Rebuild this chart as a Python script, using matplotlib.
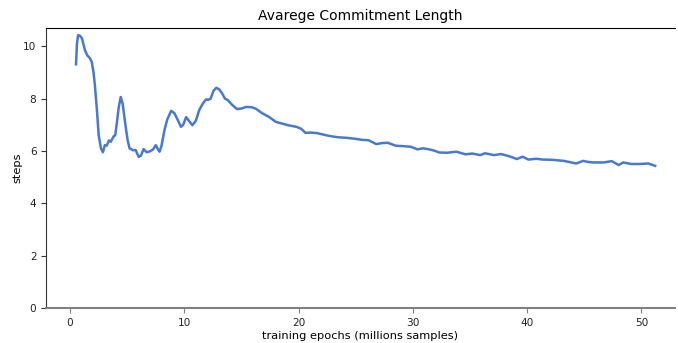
import numpy as np
from matplotlib import pyplot as plt

# values
epochs = [0.52, 0.6, 0.7, 0.85, 1.04, 1.3, 1.5, 1.74, 1.9, 2.05, 2.17, 2.35, 2.5, 2.7,
          2.87, 3.04, 3.2, 3.4, 3.56, 3.8, 3.95, 4.1, 4.25, 4.43, 4.6, 4.87, 5.04,
          5.2, 5.48, 5.74, 6.0, 6.2, 6.43, 6.7, 6.96, 7.25, 7.5, 7.7, 7.83, 8.0,
          8.26, 8.5, 8.84, 9.13, 9.4, 9.7, 9.9, 10.15, 10.4, 10.7, 11.0, 11.3,
          11.6, 11.9, 12.1, 12.3, 12.55, 12.8, 13.05, 13.3, 13.55, 13.8, 14.2,
          14.6, 15.0, 15.4, 15.9, 16.3, 16.8, 17.4, 18.0, 18.5, 19.1, 19.8, 20.2,
          20.6, 21.1, 21.6, 22.1, 22.6, 23.0, 23.5, 24.2, 25.0, 25.6, 26.1, 26.8,
          27.3, 27.8, 28.5, 29.2, 29.8, 30.4, 30.9, 31.3, 31.8, 32.3, 33.0, 33.8,
          34.6, 35.2, 35.9, 36.3, 37.1, 37.7, 38.4, 39.1, 39.6, 40.1, 40.8, 41.4,
          42.2, 43.2, 44.3, 44.9, 45.3, 45.8, 46.7, 47.4, 48.0, 48.4, 49.1, 49.8,
          50.6, 51.2]
steps = [9.31, 10.1, 10.42, 10.4, 10.3, 9.85, 9.65, 9.54, 9.39, 9.0, 8.5, 7.55, 6.6,
         6.1, 5.95, 6.22, 6.2, 6.4, 6.35, 6.55, 6.6, 7.1, 7.65, 8.06, 7.8, 6.9, 6.4,
         6.1, 6.03, 6.03, 5.77, 5.82, 6.07, 5.95, 5.98, 6.05, 6.22, 6.05, 5.97,
         6.2, 6.8, 7.2, 7.53, 7.44, 7.2, 6.92, 7.0, 7.29, 7.15, 6.98, 7.15, 7.56,
         7.8, 7.97, 7.95, 8.0, 8.3, 8.41, 8.35, 8.2, 8.0, 7.94, 7.75, 7.6, 7.62,
         7.68, 7.67, 7.6, 7.44, 7.3, 7.11, 7.05, 6.98, 6.92, 6.85, 6.69, 6.7, 6.68,
         6.63, 6.58, 6.55, 6.52, 6.5, 6.46, 6.42, 6.41, 6.26, 6.3, 6.31, 6.2, 6.18,
         6.16, 6.06, 6.1, 6.07, 6.02, 5.94, 5.93, 5.97, 5.87, 5.9, 5.84, 5.91,
         5.84, 5.88, 5.8, 5.69, 5.78, 5.67, 5.7, 5.67, 5.66, 5.62, 5.52, 5.62,
         5.58, 5.56, 5.56, 5.61, 5.46, 5.56, 5.5, 5.5, 5.52, 5.43]

fig = plt.figure(figsize=(6.78, 3.43), dpi=100)
ax = fig.add_axes([0.068, 0.102, 0.995 - 0.068, 0.918 - 0.102])
ax.plot(epochs, steps, color='#4878d0', linewidth=1.8)

ax.set_xlim(-2.1, 52.9)
ax.set_ylim(0, 10.69)
ax.set_xticks([0, 10, 20, 30, 40, 50])
ax.set_yticks([0, 2, 4, 6, 8, 10])
ax.set_title("Avarege Commitment Length", fontsize=10)
ax.set_xlabel("training epochs (millions samples)", fontsize=8.2)
ax.set_ylabel("steps", fontsize=8.2)
ax.xaxis.set_label_coords(0.5, -0.083)
ax.yaxis.set_label_coords(-0.038, 0.5)

ax.spines['right'].set_visible(False)
ax.spines['top'].set_color('black')
ax.spines['left'].set_color('#333333')
ax.spines['bottom'].set_color('#808080')
ax.spines['bottom'].set_linewidth(1.5)
ax.tick_params(axis='x', colors='#808080', labelcolor='#222222', labelsize=7.6)
ax.tick_params(axis='y', colors='#333333', labelcolor='#222222', labelsize=7.6)

fig.savefig('out.png', dpi=100)
